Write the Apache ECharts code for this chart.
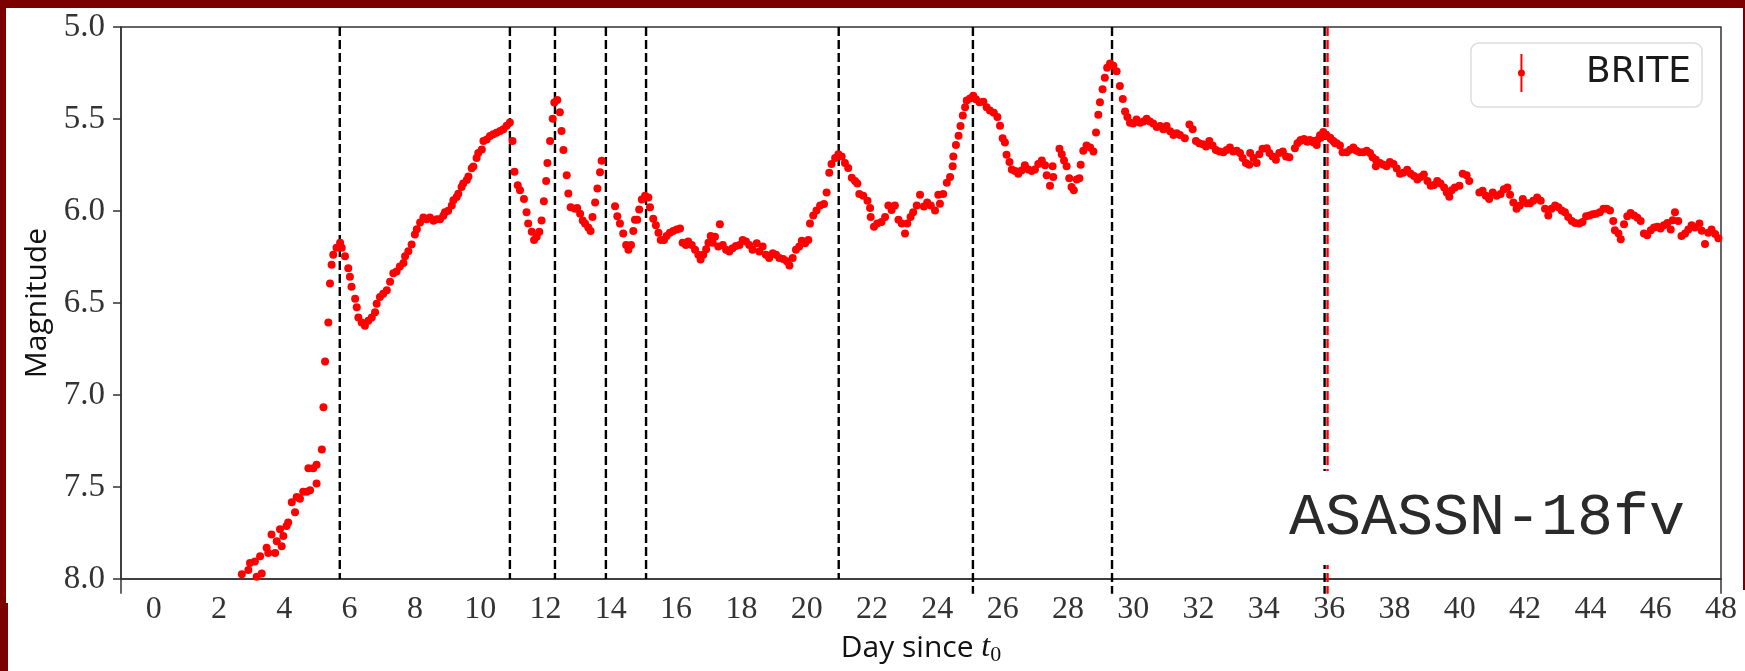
<!DOCTYPE html>
<html>
<head>
<meta charset="utf-8">
<script src="https://cdn.jsdelivr.net/npm/echarts@6/dist/echarts.min.js"></script>
<style>
html,body{margin:0;padding:0;background:#fff;}
#wrap{position:relative;width:1745px;height:671px;overflow:hidden;background:#fff;}
#chart{position:absolute;left:0;top:0;width:1745px;height:671px;}
.fr{position:absolute;background:#7d0000;z-index:5;}
</style>
</head>
<body>
<div id="wrap">
<div id="chart"></div>
<div class="fr" style="left:0;top:0;width:1745px;height:8px;"></div>
<div class="fr" style="left:0;top:0;width:6px;height:671px;"></div>
<div class="fr" style="left:0;top:603px;width:8px;height:68px;"></div>
<div class="fr" style="left:1743px;top:0;width:2px;height:590px;"></div>
</div>
<script>
// ---- data: [day since t0, magnitude] ----
const risePhase = [
[2.70,7.974],[2.90,7.95],[2.95,7.913],[3.10,7.904],[3.155,7.987],[3.26,7.876],[3.31,7.969],
[3.46,7.83],[3.51,7.858],[3.61,7.757],[3.72,7.858],[3.77,7.794],[3.87,7.729],[3.92,7.821],
[3.97,7.766],[4.07,7.711],[4.12,7.692],[4.23,7.582],[4.33,7.637],[4.38,7.554],[4.48,7.563],
[4.58,7.526],[4.69,7.526],[4.74,7.398],[4.79,7.517],[4.89,7.398],[4.99,7.379],[4.99,7.48],
[5.15,7.296],[5.20,7.066],[5.25,6.817],[5.35,6.606],[5.40,6.394],[5.45,6.292],[5.50,6.237],
[5.60,6.20],[5.71,6.173],[5.76,6.20],[5.86,6.246],[5.96,6.311],[6.01,6.357],[6.06,6.412],
[6.17,6.477],[6.22,6.523],[6.27,6.578],[6.37,6.606],[6.47,6.624],[6.575,6.596],[6.68,6.578],
[6.78,6.55],[6.83,6.504],[6.93,6.467],[7.03,6.449],[7.14,6.43],[7.24,6.384],[7.34,6.338],
[7.44,6.329],[7.54,6.302],[7.65,6.283],[7.70,6.246],[7.80,6.219],[7.90,6.182],[8.00,6.127],
[8.06,6.099],[8.16,6.062],[8.26,6.035],[8.36,6.044],[8.46,6.035],[8.57,6.053],[8.67,6.044],
[8.77,6.044],[8.87,6.025],[8.92,6.007],[9.02,5.998],[9.13,5.97],[9.18,5.942],[9.28,5.924],
[9.33,5.906],[9.43,5.869],[9.48,5.85],[9.59,5.832],[9.64,5.813],[9.74,5.767],[9.79,5.758],
[9.89,5.712],[9.94,5.685],[10.05,5.666],[10.10,5.62],[10.20,5.611],[10.30,5.592],[10.40,5.583],
[10.50,5.574],[10.61,5.565],[10.71,5.556],[10.81,5.537],[10.91,5.519]
];
const flarePhase = [
[10.99,5.62],[11.05,5.786],[11.15,5.86],[11.22,5.887],[11.34,5.935],[11.42,6.006],[11.47,6.068],
[11.58,6.113],[11.65,6.157],[11.73,6.14],[11.81,6.113],[11.88,6.051],[11.95,5.947],[12.02,5.837],
[12.06,5.739],[12.14,5.62],[12.22,5.499],[12.27,5.41],[12.36,5.397],[12.44,5.463],[12.49,5.565],
[12.55,5.668],[12.65,5.805],[12.70,5.905],[12.77,5.979],[12.90,5.988],[12.97,5.983],[13.06,6.015],
[13.14,6.051],[13.21,6.068],[13.31,6.09],[13.38,6.108],[13.44,6.033],[13.52,5.953],[13.59,5.878],
[13.67,5.789],[13.72,5.727],[14.13,5.974],[14.20,6.029],[14.28,6.068],[14.38,6.122],[14.47,6.184],
[14.54,6.211],[14.62,6.184],[14.69,6.108],[14.74,6.047],[14.81,6.047],[14.87,5.992],[14.95,5.938],
[15.05,5.917],[15.15,5.926],[15.20,5.979],[15.30,6.042],[15.38,6.077],[15.46,6.118],[15.53,6.157],
[15.63,6.157],[15.71,6.136],[15.81,6.118],[15.91,6.108],[16.02,6.10],[16.12,6.095],[16.20,6.172],
[16.30,6.184],[16.37,6.166],[16.48,6.184],[16.58,6.211],[16.68,6.238],[16.75,6.264],[16.83,6.238],
[16.92,6.207],[16.99,6.172],[17.06,6.136],[17.12,6.172],[17.19,6.14],[17.29,6.193],[17.34,6.072],
[17.43,6.184],[17.53,6.211],[17.63,6.22],[17.73,6.202],[17.83,6.19],[17.94,6.184],[18.04,6.157],
[18.14,6.166],[18.24,6.184],[18.34,6.211],[18.47,6.175],[18.55,6.22],[18.65,6.193],[18.75,6.238],
[18.85,6.255],[18.96,6.229],[19.06,6.238],[19.16,6.255],[19.28,6.261],[19.39,6.273],[19.47,6.296],
[19.57,6.255],[19.67,6.211],[19.77,6.193],[19.85,6.161],[19.95,6.175],[20.05,6.157],[20.10,6.068],
[20.20,6.024],[20.30,5.997],[20.41,5.97],[20.53,5.962],[20.61,5.899],[20.69,5.792],[20.76,5.744],
[20.87,5.712],[20.97,5.691],[21.07,5.703],[21.17,5.739],[21.27,5.766],[21.38,5.819],[21.48,5.837],
[21.55,5.851],[21.61,5.908],[21.73,5.917],[21.86,5.944],[21.94,5.983],[21.96,6.033],[22.06,6.086],
[22.16,6.068],[22.29,6.06],[22.40,6.033],[22.50,5.97],[22.60,5.994],[22.70,5.97],[22.81,6.047],
[22.91,6.068],[23.01,6.122],[23.08,6.068],[23.18,6.033],[23.26,6.006],[23.37,5.97],[23.47,5.912],
[23.59,5.976],[23.69,5.953],[23.80,5.97],[23.93,5.997],[24.03,5.912]
];
const latePeaks = [
[24.08,5.961],[24.18,5.908],[24.29,5.846],[24.39,5.815],[24.47,5.757],[24.49,5.703],[24.57,5.641],
[24.65,5.591],[24.71,5.538],[24.78,5.481],[24.85,5.436],[24.90,5.40],[25.00,5.388],[25.10,5.374],
[25.18,5.392],[25.29,5.409],[25.41,5.406],[25.51,5.436],[25.61,5.454],[25.73,5.466],[25.84,5.489],
[25.92,5.537],[26.00,5.605],[26.07,5.627],[26.12,5.694],[26.21,5.733],[26.28,5.774],[26.38,5.783],
[26.48,5.797],[26.58,5.78],[26.68,5.751],[26.79,5.774],[26.89,5.783],[26.99,5.774],[27.09,5.744],
[27.20,5.726],[27.30,5.751],[27.35,5.805],[27.45,5.863],[27.53,5.757],[27.55,5.815],[27.74,5.662],
[27.81,5.691],[27.88,5.726],[27.96,5.757],[28.04,5.822],[28.11,5.869],[28.18,5.887],[28.27,5.828],
[28.35,5.822],[28.39,5.748],[28.47,5.673],[28.57,5.644],[28.68,5.655],[28.78,5.676],[28.86,5.573],
[28.93,5.477],[28.98,5.409],[29.06,5.338],[29.13,5.276],[29.20,5.222],[29.29,5.199],[29.39,5.21],
[29.49,5.24],[29.59,5.32],[29.68,5.391],[29.75,5.459],[29.82,5.489],[29.90,5.52],[30.00,5.525],
[30.10,5.502],[30.21,5.52],[30.31,5.513],[30.41,5.498],[30.51,5.513],[30.61,5.525],[30.72,5.543],
[30.82,5.538],[30.92,5.555],[31.02,5.538],[31.13,5.566],[31.23,5.587],[31.33,5.578],[31.43,5.587],
[31.58,5.605],[31.72,5.53],[31.82,5.555],[31.92,5.619],[32.02,5.632],[32.13,5.637],[32.23,5.65],
[32.33,5.619],[32.43,5.644],[32.53,5.668],[32.64,5.676],[32.76,5.68],[32.86,5.668],[32.96,5.655],
[33.06,5.676],[33.17,5.673],[33.27,5.685],[33.35,5.712],[33.45,5.739],[33.55,5.748],[33.58,5.685],
[33.68,5.712],[33.78,5.739],[33.86,5.691],[33.96,5.662],[34.09,5.659],[34.17,5.685],[34.27,5.703],
[34.37,5.721],[34.47,5.685],[34.58,5.676],[34.68,5.703],[34.78,5.708],[34.95,5.659],[35.03,5.632],
[35.11,5.62],[35.13,5.614],[35.21,5.614],[35.23,5.609],[35.31,5.62],[35.33,5.623],[35.41,5.614],
[35.43,5.619],[35.52,5.62],[35.53,5.627],[35.62,5.641],[35.64,5.614],[35.72,5.588],[35.74,5.602],
[35.82,5.57],[35.92,5.588]
];
const declinePhase = [
[36.03,5.602],[36.05,5.609],[36.13,5.62],[36.18,5.632],[36.23,5.632],[36.33,5.644],[36.41,5.68],
[36.54,5.68],[36.64,5.667],[36.74,5.655],[36.84,5.673],[36.94,5.68],[37.05,5.68],[37.15,5.673],
[37.25,5.685],[37.33,5.708],[37.43,5.721],[37.43,5.757],[37.56,5.739],[37.66,5.748],[37.76,5.757],
[37.86,5.733],[37.97,5.744],[38.07,5.769],[38.17,5.798],[38.27,5.792],[38.39,5.775],[38.50,5.798],
[38.60,5.81],[38.70,5.828],[38.80,5.815],[38.90,5.801],[39.01,5.837],[39.11,5.863],[39.21,5.858],
[39.31,5.837],[39.41,5.851],[39.52,5.872],[39.60,5.899],[39.68,5.922],[39.75,5.887],[39.85,5.872],
[39.99,5.863],[40.09,5.798],[40.21,5.805],[40.29,5.837],[40.60,5.899],[40.70,5.89],[40.80,5.917],
[40.90,5.935],[41.01,5.899],[41.13,5.917],[41.25,5.908],[41.35,5.881],[41.46,5.872],[41.54,5.911],
[41.64,5.953],[41.74,5.988],[41.84,5.97],[41.93,5.935],[42.05,5.958],[42.15,5.958],[42.25,5.944],
[42.37,5.926],[42.48,5.944],[42.61,5.988],[42.71,6.024],[42.81,5.988],[42.92,5.97],[43.02,5.979],
[43.12,5.997],[43.22,6.006],[43.32,6.033],[43.43,6.054],[43.53,6.065],[43.66,6.068],[43.76,6.06],
[43.87,6.029],[43.97,6.024],[44.07,6.018],[44.17,6.015],[44.29,6.006],[44.40,5.988],[44.50,5.988],
[44.60,5.997],[44.70,6.054],[44.75,6.104],[44.86,6.122],[44.93,6.154],[45.03,6.072],[45.13,6.029],
[45.23,6.011],[45.34,6.024],[45.44,6.036],[45.54,6.054],[45.64,6.122],[45.74,6.131],[45.85,6.104],
[45.95,6.09],[46.05,6.086],[46.15,6.095],[46.25,6.077],[46.36,6.065],[46.46,6.10],[46.52,6.05],
[46.59,6.006],[46.69,6.054],[46.79,6.136],[46.90,6.122],[47.00,6.10],[47.10,6.077],[47.20,6.09],
[47.34,6.068],[47.41,6.107],[47.51,6.179],[47.61,6.118],[47.71,6.10],[47.82,6.125],[47.92,6.148]
];
// vertical dashed markers (day), and those whose lines run past the lower axis
const blackMarkers = [5.70, 10.91, 12.29, 13.85, 15.08, 20.98];
const blackMarkersLong = [25.09, 29.35, 35.86];
const redMarkers = [35.95];
const spineExtensions = [-1, 48];
const xRange = [-1, 48];
const xLabelStep = 2;
const yRange = [5, 8];
const lowerEnd = 8.08;
const seriesName = 'BRITE';
const objectLabel = 'ASASSN-18fv';

const brite = risePhase.concat(flarePhase, latePeaks, declinePhase);

function vline(x, y1, color, width) {
  return {
    type: 'line', data: [[x, yRange[0]], [x, y1]], symbol: 'none', silent: true, clip: false,
    z: 3, animation: false,
    lineStyle: { color: color, width: width, type: [9, 4] }
  };
}

const series = [];
blackMarkers.forEach(x => series.push(vline(x, yRange[1], '#000', 2.4)));
blackMarkersLong.forEach(x => series.push(vline(x, lowerEnd, '#000', 2.4)));
redMarkers.forEach(x => series.push(vline(x, lowerEnd, '#ff0000', 2.4)));
spineExtensions.forEach(x => series.push({
  type: 'line', data: [[x, yRange[1]], [x, lowerEnd]], symbol: 'none', silent: true, clip: false,
  z: 3, lineStyle: { color: '#333', width: 1.5 }
}));
series.push({
  name: seriesName, type: 'scatter', data: brite, symbolSize: 8, z: 4,
  itemStyle: { color: '#ff0000', opacity: 1 }
});

const chart = echarts.init(document.getElementById('chart'), null, { renderer: 'canvas' });
chart.setOption({
  animation: false,
  backgroundColor: '#ffffff',
  grid: { left: 121, right: 24, top: 27, bottom: 83, show: true, borderColor: '#333', borderWidth: 1.5, backgroundColor: 'transparent' },
  xAxis: {
    type: 'value', min: xRange[0], max: xRange[1], interval: 1,
    name: 'Day since {t|t}{s|0}', nameLocation: 'middle', nameGap: 48,
    nameTextStyle: {
      fontFamily: 'Open Sans', fontSize: 30, color: '#111', lineHeight: 36,
      rich: {
        t: { fontFamily: 'Liberation Serif', fontStyle: 'italic', fontSize: 32, color: '#111', lineHeight: 36 },
        s: { fontFamily: 'Liberation Serif', fontSize: 22, color: '#111', verticalAlign: 'bottom', lineHeight: 14 }
      }
    },
    axisLine: { show: true, onZero: false, lineStyle: { color: '#333', width: 1.5 } },
    axisTick: { show: false },
    splitLine: { show: false },
    axisLabel: {
      formatter: v => (v >= 0 && v % xLabelStep === 0) ? String(v) : '',
      fontFamily: 'Liberation Serif', fontSize: 32, color: '#333', margin: 14
    }
  },
  yAxis: {
    type: 'value', inverse: true, min: yRange[0], max: yRange[1], interval: 0.5,
    name: 'Magnitude', nameLocation: 'middle', nameRotate: 90, nameGap: 64,
    nameTextStyle: { fontFamily: 'Open Sans', fontSize: 30, color: '#111' },
    axisLine: { show: true, onZero: false, lineStyle: { color: '#333', width: 1.5 } },
    axisTick: { show: true, length: 8, lineStyle: { color: '#333', width: 1.5 } },
    splitLine: { show: false },
    axisLabel: { formatter: v => v.toFixed(1), fontFamily: 'Liberation Serif', fontSize: 33, color: '#333', margin: 16 }
  },
  legend: {
    data: [seriesName], right: 43, top: 43, orient: 'vertical',
    backgroundColor: 'rgba(255,255,255,0.9)', borderColor: '#dddddd', borderWidth: 1.5, borderRadius: 8,
    padding: [11, 11, 15, 47],
    itemWidth: 7, itemHeight: 38,
    icon: 'path://M2.5,0h2v38h-2z M0,19a3.5,3.5 0 1,1 7,0a3.5,3.5 0 1,1 -7,0z',
    textStyle: { fontFamily: 'DejaVu Sans', fontSize: 36, color: '#1a1a1a', padding: [0, 0, 0, 56] }
  },
  graphic: [{
    type: 'text', left: 1281, top: 471, z: 100,
    style: {
      text: objectLabel, font: '60px "Liberation Mono"', fill: '#2a2a2a',
      backgroundColor: '#ffffff', padding: [14, 8, 14, 8], lineHeight: 66
    }
  }],
  series: series
});
</script>
</body>
</html>
